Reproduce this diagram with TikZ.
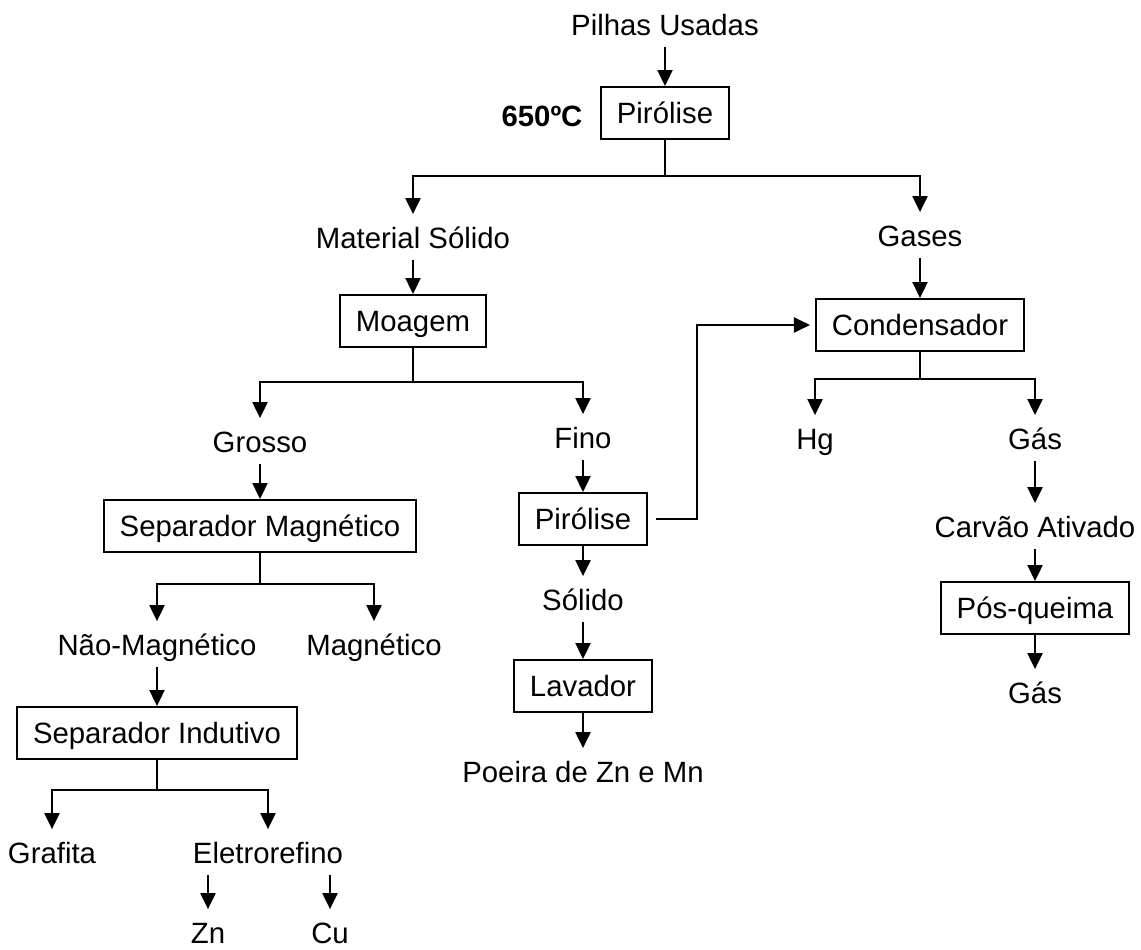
\documentclass[tikz,border=0pt]{standalone}
\usepackage{fontspec}
\setmainfont{Liberation Sans}
\usetikzlibrary{arrows.meta}
\begin{document}
\begin{tikzpicture}[x=0.02cm,y=-0.02cm,
  every node/.style={font=\fontsize{16.7}{20}\selectfont},
  lbl/.style={inner xsep=1pt, inner ysep=0pt, text height=12pt, text depth=0pt},
  stage/.style={draw, line width=1.1pt, inner xsep=0.32cm, minimum height=1.04cm,
                text height=12pt, text depth=0pt},
  flow/.style={line width=1.2pt},
  arr/.style={flow, -{Triangle[length=0.32cm,width=0.3cm]}},
  tolbl/.style={shorten >=0.26cm},
  fromlbl/.style={shorten <=0.22cm}]
\useasboundingbox (0,0) rectangle (1141,949);

% top: pyrolysis of the spent batteries
\node[lbl]   (pilhas) at (665,25)  {Pilhas Usadas};
\node[stage] (pir1)   at (665,113) {Pirólise};
\node[lbl,font=\fontsize{16.7}{20}\selectfont\bfseries] (temp) at (542,116) {650ºC};
\coordinate (j1) at (665,176);

% solid branch
\node[lbl]   (solido)  at (413,238) {Material Sólido};
\node[stage] (moagem)  at (413,321) {Moagem};
\coordinate (j2) at (413,382);
\node[lbl]   (grosso)  at (260,442) {Grosso};
\node[lbl]   (fino)    at (583,438) {Fino};
\node[stage] (sepmag)  at (260,526) {Separador Magnético};
\coordinate (j3) at (260,584);
\node[lbl]   (naomag)  at (157,645) {Não-Magnético};
\node[lbl]   (mag)     at (374,645) {Magnético};
\node[stage] (sepind)  at (157,733) {Separador Indutivo};
\coordinate (j4) at (157,790);
\node[lbl]   (grafita) at (52,853)  {Grafita};
\node[lbl]   (eletro)  at (268,853) {Eletrorefino};
\node[lbl]   (zn)      at (208,933) {Zn};
\node[lbl]   (cu)      at (330,933) {Cu};

% fine fraction
\node[stage] (pir2)    at (583,519) {Pirólise};
\node[lbl]   (solido2) at (583,600) {Sólido};
\node[stage] (lavador) at (583,686) {Lavador};
\node[lbl]   (poeira)  at (583,772) {Poeira de Zn e Mn};
\coordinate (loop) at (697,0);

% gas branch
\node[lbl]   (gases)  at (920,236)  {Gases};
\node[stage] (cond)   at (920,325)  {Condensador};
\coordinate (j5) at (920,379);
\node[lbl]   (hg)     at (815,439)  {Hg};
\node[lbl]   (gas1)   at (1035,439) {Gás};
\node[lbl]   (carvao) at (1035,527) {Carvão Ativado};
\node[stage] (pos)    at (1035,608) {Pós-queima};
\node[lbl]   (gas2)   at (1035,693) {Gás};

% connectors
\draw[arr,fromlbl] (pilhas.south) -- (pir1.north);
\draw[flow] (pir1.south) -- (j1);
\draw[arr,tolbl] (j1) -| (solido.north);
\draw[arr,tolbl] (j1) -| (gases.north);

\draw[arr,fromlbl] (solido.south) -- (moagem.north);
\draw[flow] (moagem.south) -- (j2);
\draw[arr,tolbl] (j2) -| (grosso.north);
\draw[arr,tolbl] (j2) -| (fino.north);
\draw[arr,fromlbl] (grosso.south) -- (sepmag.north);
\draw[flow] (sepmag.south) -- (j3);
\draw[arr,tolbl] (j3) -| (naomag.north);
\draw[arr,tolbl] (j3) -| (mag.north);
\draw[arr,fromlbl] (naomag.south) -- (sepind.north);
\draw[flow] (sepind.south) -- (j4);
\draw[arr,tolbl] (j4) -| (grafita.north);
\draw[arr,tolbl] (j4) -| (eletro.north);
\draw[arr,fromlbl,tolbl] (eletro.south -| zn.north) -- (zn.north);
\draw[arr,fromlbl,tolbl] (eletro.south -| cu.north) -- (cu.north);

\draw[arr,fromlbl] (fino.south) -- (pir2.north);
\draw[arr,tolbl] (pir2.south) -- (solido2.north);
\draw[arr,fromlbl] (solido2.south) -- (lavador.north);
\draw[arr,tolbl] (lavador.south) -- (poeira.north);
\draw[arr,shorten <=0.16cm,shorten >=0.1cm] (pir2.east) -| (loop |- cond.west) -- (cond.west);

\draw[arr,fromlbl] (gases.south) -- (cond.north);
\draw[flow] (cond.south) -- (j5);
\draw[arr,tolbl] (j5) -| (hg.north);
\draw[arr,tolbl] (j5) -| (gas1.north);
\draw[arr,fromlbl,tolbl] (gas1.south) -- (carvao.north);
\draw[arr,fromlbl] (carvao.south) -- (pos.north);
\draw[arr,tolbl] (pos.south) -- (gas2.north);
\end{tikzpicture}
\end{document}
